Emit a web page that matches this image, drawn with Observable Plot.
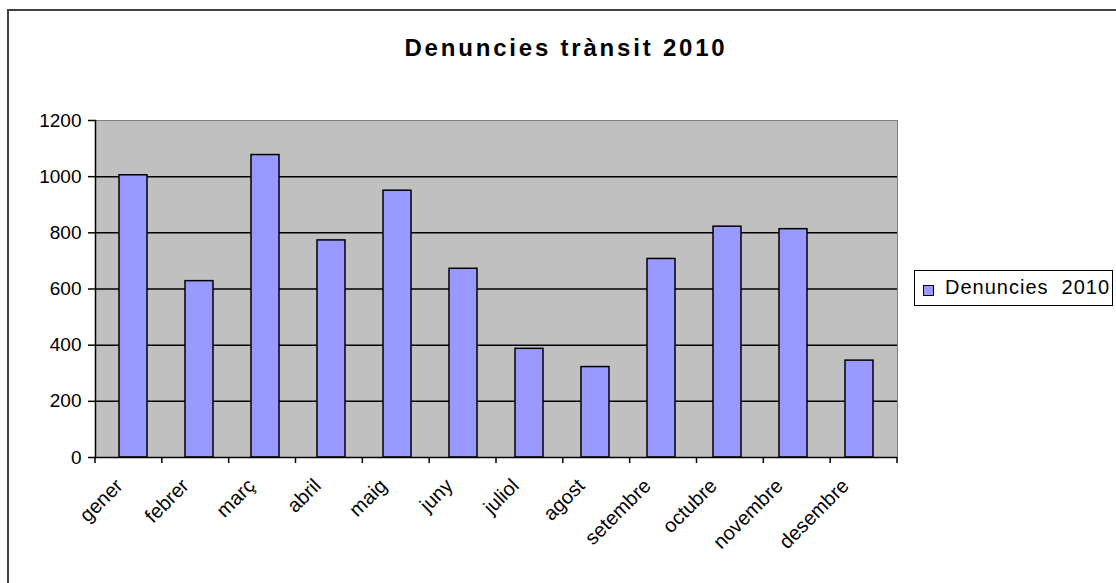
<!DOCTYPE html>
<html>
<head>
<meta charset="utf-8">
<script src="https://cdn.jsdelivr.net/npm/d3@7"></script>
<script src="https://cdn.jsdelivr.net/npm/@observablehq/plot@0.6"></script>
<style>
  html, body { margin: 0; padding: 0; background: #fff; width: 1116px; height: 583px; overflow: hidden; position: relative; font-family: "Liberation Sans", Arial, sans-serif; }
  #frame { position: absolute; left: 7px; top: 9px; width: 1200px; height: 700px; border: 2px solid #404040; box-sizing: border-box; pointer-events: none; }
  #title { position: absolute; left: 0; width: 1132px; top: 34px; text-align: center; font-weight: bold; font-size: 24px; letter-spacing: 2.8px; color: #000; }
  #chart { position: absolute; left: 0; top: 0; }
  #legend { position: absolute; left: 914px; top: 270px; width: 199px; height: 36px; border: 1.5px solid #000; box-sizing: border-box; background: #fff; }
  #legend .sw { position: absolute; left: 8px; top: 14px; width: 9px; height: 9px; background: #9999FF; border: 1.5px solid #000; }
  #legend .lb { position: absolute; left: 30px; top: 5px; font-size: 20px; letter-spacing: 1px; white-space: pre; color: #000; }
</style>
</head>
<body>
<div id="chart"></div>
<div id="title">Denuncies trànsit  2010</div>
<div id="legend"><div class="sw"></div><div class="lb">Denuncies  2010</div></div>
<div id="frame"></div>
<script>
const months = ["gener", "febrer", "març", "abril", "maig", "juny", "juliol", "agost", "setembre", "octubre", "novembre", "desembre"];
const values = [1005, 628, 1077, 773, 950, 672, 387, 322, 707, 822, 813, 345];
const yTicks = [0, 200, 400, 600, 800, 1000, 1200];
const gridValues = [200, 400, 600, 800, 1000];

const data = months.map((m, i) => ({month: m, value: values[i]}));

const W = 1116, H = 583, ML = 95, MR = 219, MT = 120, MB = 126;

// category boundary ticks (Excel style: ticks between categories)
function boundaryTicks(index, scales, channels, dimensions) {
  const g = d3.create("svg:g");
  const step = (dimensions.width - dimensions.marginLeft - dimensions.marginRight) / months.length;
  const y0 = dimensions.height - dimensions.marginBottom;
  for (let i = 0; i <= months.length; i++) {
    const x = dimensions.marginLeft + i * step;
    g.append("line").attr("x1", x).attr("x2", x).attr("y1", y0).attr("y2", y0 + 6)
      .attr("stroke", "#000").attr("stroke-width", 1.5);
  }
  return g.node();
}

const plot = Plot.plot({
  width: W,
  height: H,
  marginLeft: ML,
  marginRight: MR,
  marginTop: MT,
  marginBottom: MB,
  style: {fontFamily: "'Liberation Sans', Arial, sans-serif", background: "transparent", color: "#000"},
  x: {domain: months, paddingInner: 0.57, paddingOuter: 0.285},
  y: {domain: [0, 1200]},
  marks: [
    Plot.frame({fill: "#C0C0C0", stroke: "#808080", strokeWidth: 1}),
    Plot.ruleY(gridValues, {stroke: "#000", strokeWidth: 1.5}),
    Plot.barY(data, {x: "month", y: "value", fill: "#9999FF", stroke: "#000", strokeWidth: 1.5}),
    Plot.ruleY([0], {stroke: "#000", strokeWidth: 1.5}),
    Plot.frame({anchor: "left", stroke: "#000", strokeWidth: 1.5}),
    Plot.axisY({ticks: yTicks, tickSize: 7, tickPadding: 7, fontSize: 19, tickFormat: d3.format("d"), label: null, strokeWidth: 1.5}),
    Plot.axisX({tickSize: 0, tickRotate: -45, tickPadding: 25, dx: -14, fontSize: 20, label: null}),
    boundaryTicks
  ]
});
document.getElementById("chart").appendChild(plot);
</script>
</body>
</html>
